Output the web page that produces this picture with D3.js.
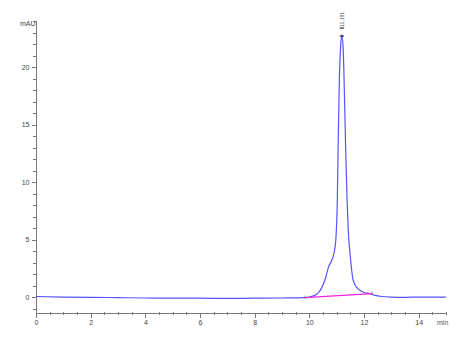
<!DOCTYPE html>
<html>
<head>
<meta charset="utf-8">
<script src="https://cdn.jsdelivr.net/npm/d3@7"></script>
<style>
    body { margin: 0; background: #fff; }
    svg { display: block; font-family: "Liberation Sans", Arial, sans-serif; }
    .axis path, .axis line { stroke: #7a7a7a; shape-rendering: crispEdges; }
    .axis text { fill: #444; font-size: 7px; }
</style>
</head>
<body>
<div id="chart"></div>
<script>
// retention time (min) and signal (mAU)
var times = [0, 1, 2, 3, 4, 5, 6, 7, 8, 9, 9.8, 10.0, 10.15, 10.3, 10.45, 10.6, 10.7, 10.8, 10.9, 10.97,
    11.02, 11.06, 11.1, 11.15, 11.19, 11.24, 11.29, 11.33, 11.38, 11.42, 11.5, 11.6, 11.75, 11.85,
    12.0, 12.2, 12.4, 12.65, 13.0, 13.5, 14.0, 15.0];
var signal = [0.05, 0.0, -0.02, -0.05, -0.08, -0.1, -0.1, -0.12, -0.1, -0.08, -0.05, 0.0, 0.1, 0.3, 0.8, 1.7, 2.6, 3.1, 3.8, 5.0,
    8.0, 14.0, 19.0, 22.0, 22.8, 21.5, 17.0, 12.8, 8.5, 6.0, 3.5, 1.5, 0.8, 0.6,
    0.4, 0.3, 0.15, 0.05, 0.0, -0.02, 0.0, 0.0];

// integration baseline (start / end of peak)
var baseTimes = [9.84, 12.3];
var baseValues = [-0.05, 0.3];

var peakTime = 11.19;
var peakValue = 22.8;
var peakLabel = "11.191";

var xTicks = [0, 2, 4, 6, 8, 10, 12, 14];
var yTicks = [0, 5, 10, 15, 20];

var width = 466, height = 342;

var svg = d3.select("#chart").append("svg")
    .attr("width", width)
    .attr("height", height);

var xScale = d3.scaleLinear().domain([0, 15]).range([36, 446]);
var yScale = d3.scaleLinear().domain([-1.3, 24.1]).range([312, 20]);

// minor ticks
var xMinor = d3.range(0, 15.01, 0.5).filter(function(d) { return d % 2 != 0; });
var yMinor = d3.range(-1, 24.01, 1).filter(function(d) { return d % 5 != 0; });

svg.append("g")
    .attr("class", "axis")
    .selectAll("line").data(xMinor).enter()
    .append("line")
    .attr("x1", function(d) { return Math.round(xScale(d)) + 0.5; })
    .attr("x2", function(d) { return Math.round(xScale(d)) + 0.5; })
    .attr("y1", 312)
    .attr("y2", 315);

svg.append("g")
    .attr("class", "axis")
    .selectAll("line").data(yMinor).enter()
    .append("line")
    .attr("x1", 33)
    .attr("x2", 37)
    .attr("y1", function(d) { return Math.round(yScale(d)) + 0.5; })
    .attr("y2", function(d) { return Math.round(yScale(d)) + 0.5; });

// x axis
svg.append("g")
    .attr("class", "axis")
    .attr("transform", "translate(0,312.5)")
    .call(d3.axisBottom(xScale).tickValues(xTicks).tickSize(5).tickSizeOuter(0).tickPadding(3));

// y axis
svg.append("g")
    .attr("class", "axis")
    .attr("transform", "translate(35.5,0)")
    .call(d3.axisLeft(yScale).tickValues(yTicks).tickSize(4).tickSizeOuter(0).tickPadding(2));

svg.append("text")
    .attr("x", 437)
    .attr("y", 325)
    .attr("font-size", 7)
    .attr("fill", "#555")
    .text("min");

svg.append("text")
    .attr("x", 20)
    .attr("y", 26)
    .attr("font-size", 7)
    .attr("fill", "#444")
    .text("mAU");

// the chromatogram trace
var line = d3.line()
    .x(function(d) { return xScale(d[0]); })
    .y(function(d) { return yScale(d[1]); })
    .curve(d3.curveMonotoneX);

svg.append("path")
    .datum(d3.zip(times, signal))
    .attr("d", line)
    .attr("fill", "none")
    .attr("stroke", "#5555ff")
    .attr("stroke-width", 1.2);

// baseline of the integrated peak
svg.append("path")
    .datum(d3.zip(baseTimes, baseValues))
    .attr("d", d3.line().x(function(d) { return xScale(d[0]); }).y(function(d) { return yScale(d[1]); }))
    .attr("fill", "none")
    .attr("stroke", "#ee22dd")
    .attr("stroke-width", 1.2);

svg.selectAll("line.baseMark")
    .data(d3.zip(baseTimes, baseValues)).enter()
    .append("line")
    .attr("class", "baseMark")
    .attr("x1", function(d) { return xScale(d[0]); })
    .attr("x2", function(d) { return xScale(d[0]); })
    .attr("y1", function(d) { return yScale(d[1]) - 2; })
    .attr("y2", function(d) { return yScale(d[1]) + 1; })
    .attr("stroke", "#888")
    .attr("stroke-width", 1);

// apex markers
[0.6, -0.1].forEach(function(off) {
    svg.append("line")
        .attr("x1", xScale(peakTime) - 2)
        .attr("x2", xScale(peakTime) + 2)
        .attr("y1", yScale(peakValue + off))
        .attr("y2", yScale(peakValue + off))
        .attr("stroke", "#222")
        .attr("stroke-width", 1.2);
});

// retention time label
svg.append("text")
    .attr("transform", "translate(" + (xScale(peakTime) + 2) + "," + (yScale(peakValue) - 8) + ") rotate(-90)")
    .attr("font-size", 5)
    .attr("fill", "#555")
    .text(peakLabel);
</script>
</body>
</html>
